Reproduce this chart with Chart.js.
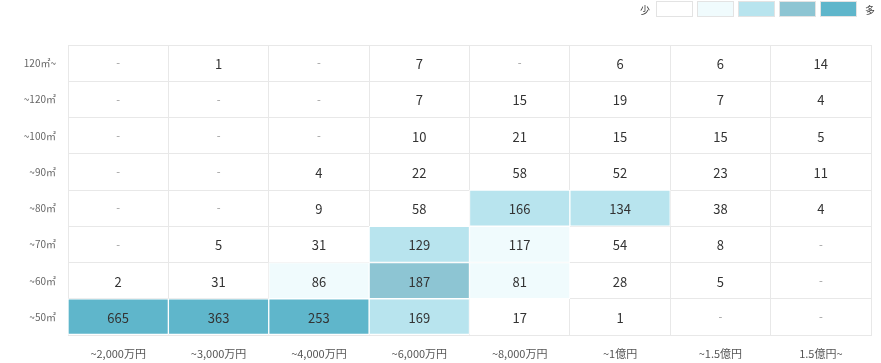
<!DOCTYPE html>
<html>
<head>
<meta charset="utf-8">
<script src="https://cdn.jsdelivr.net/npm/chart.js@4.4.0/dist/chart.umd.min.js"></script>
<style>
  body { margin: 0; background: #fff; font-family: 'Noto Sans CJK JP', 'Noto Sans', sans-serif; }
  #wrap { position: relative; width: 881px; height: 363px; }
  #legend { position: absolute; top: 1px; left: 638px; display: flex; align-items: center; font-size: 10px; color: #444; }
  #legend .box { width: 35px; height: 14px; border: 1px solid #e3e3e3; margin-right: 4px; }
  #legend span { margin: 0 6px 0 2px; }
</style>
</head>
<body>
<div id="wrap">
  <div id="legend">
    <span>少</span>
    <div class="box" style="background:#ffffff"></div>
    <div class="box" style="background:#f0fbfd"></div>
    <div class="box" style="background:#b8e4ee"></div>
    <div class="box" style="background:#8dc5d3"></div>
    <div class="box" style="background:#5fb6cb;margin-right:0"></div>
    <span style="margin-left:8px">多</span>
  </div>
  <canvas id="heatmap" width="881" height="363"></canvas>
</div>
<script>
// price ranges (columns)
const priceLabels = ['~2,000万円', '~3,000万円', '~4,000万円', '~6,000万円', '~8,000万円', '~1億円', '~1.5億円', '1.5億円~'];
// floor area ranges, bottom row first
const areaLabels = ['~50㎡', '~60㎡', '~70㎡', '~80㎡', '~90㎡', '~100㎡', '~120㎡', '120㎡~'];

// counts per row, bottom row first (null = "-")
const row50 = [665, 363, 253, 169, 17, 1, null, null];
const row60 = [2, 31, 86, 187, 81, 28, 5, null];
const row70 = [null, 5, 31, 129, 117, 54, 8, null];
const row80 = [null, null, 9, 58, 166, 134, 38, 4];
const row90 = [null, null, 4, 22, 58, 52, 23, 11];
const row100 = [null, null, null, 10, 21, 15, 15, 5];
const row120 = [null, null, null, 7, 15, 19, 7, 4];
const row120plus = [null, 1, null, 7, null, 6, 6, 14];

const counts = [row50, row60, row70, row80, row90, row100, row120, row120plus];

function cellColor(v) {
    if (v == null || v < 60) return 'rgba(255,255,255,0)';
    if (v < 120) return '#f0fbfd';
    if (v < 180) return '#b8e4ee';
    if (v < 240) return '#8dc5d3';
    return '#5fb6cb';
}

const cellText = {
    id: 'cellText',
    afterDatasetsDraw(chart) {
        const ctx = chart.ctx;
        ctx.save();
        ctx.textAlign = 'center';
        ctx.textBaseline = 'middle';
        chart.data.datasets.forEach((ds, i) => {
            const meta = chart.getDatasetMeta(i);
            meta.data.forEach((bar, j) => {
                const v = ds.counts[j];
                const y = (bar.y + bar.base) / 2;
                if (v == null) {
                    ctx.font = "11px 'Noto Sans CJK JP', sans-serif";
                    ctx.fillStyle = '#999';
                    ctx.fillText('-', bar.x, y);
                } else {
                    ctx.font = "13px 'Noto Sans CJK JP', sans-serif";
                    ctx.fillStyle = '#333';
                    ctx.fillText(String(v), bar.x, y + 1);
                }
            });
        });
        ctx.restore();
    }
};

const datasets = counts.map((row, i) => ({
    label: areaLabels[i],
    data: row.map(() => 1),
    counts: row,
    backgroundColor: row.map(cellColor),
    borderColor: row.map(v => (v != null && v >= 60) ? '#ffffff' : 'rgba(255,255,255,0)'),
    borderWidth: 1,
    borderSkipped: false,
    barPercentage: 1,
    categoryPercentage: 1
}));

new Chart(document.getElementById('heatmap').getContext('2d'), {
    type: 'bar',
    data: { labels: priceLabels, datasets: datasets },
    options: {
        responsive: false,
        animation: false,
        layout: { padding: { top: 45, right: 10, left: 0, bottom: 0 } },
        plugins: { legend: { display: false }, tooltip: { enabled: false } },
        scales: {
            x: {
                stacked: true,
                offset: true,
                grid: { offset: true, color: '#e8e8e8', drawTicks: false },
                border: { color: '#e8e8e8' },
                ticks: { color: '#555', padding: 12, font: { size: 11, family: "'Noto Sans CJK JP', sans-serif" } },
                afterFit: scale => { scale.height = 28; }
            },
            y: {
                stacked: true,
                min: 0,
                max: 8,
                grid: { color: '#e8e8e8', drawTicks: false },
                border: { color: '#e8e8e8' },
                ticks: {
                    stepSize: 1,
                    color: '#666',
                    padding: 12,
                    labelOffset: -18,
                    font: { size: 10, family: "'Noto Sans CJK JP', sans-serif" },
                    callback: v => areaLabels[v] || ''
                },
                afterFit: scale => { scale.width = 68; }
            }
        }
    },
    plugins: [cellText]
});
</script>
</body>
</html>
